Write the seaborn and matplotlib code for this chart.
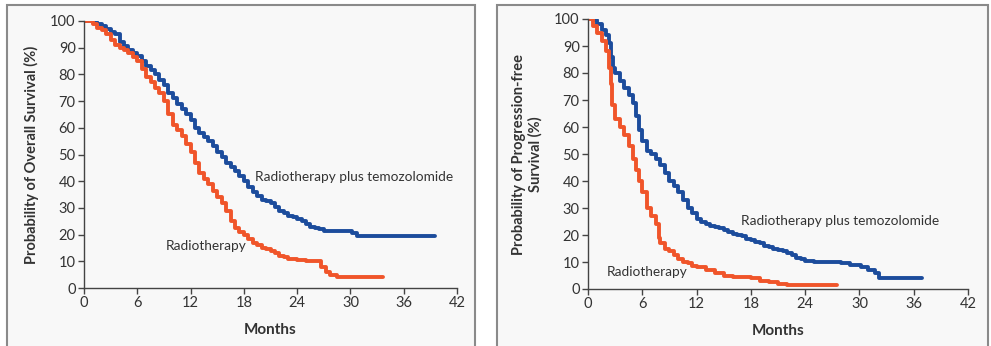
import numpy as np
import pandas as pd
import matplotlib
matplotlib.use("Agg")
import matplotlib.pyplot as plt
from matplotlib.patches import Rectangle
import seaborn as sns

# ── Data ──────────────────────────────────────────────────────────────────────
# overall survival, radiotherapy plus temozolomide
os_tmz_months = [0, 0.5, 1, 1.5, 2, 2.5, 3, 3.5, 4, 4.5, 5, 5.5, 6, 6.5, 7, 7.5, 8, 8.5, 9,
                 9.5, 10, 10.5, 11, 11.5, 12, 12.5, 13, 13.5, 14, 14.5, 15, 15.5, 16, 16.5,
                 17, 17.5, 18, 18.5, 19, 19.5, 20, 20.5, 21, 21.5, 22, 22.5, 23, 23.5, 24,
                 24.5, 25, 25.5, 26, 26.5, 27, 30.2, 30.7, 39.5]
os_tmz_surv = [100, 100, 99.5, 99, 98, 97, 96, 95, 92, 90.5, 89, 88, 87, 85, 83, 81.5, 80, 78,
               76, 73, 71, 69, 67, 65, 63, 60, 58, 56.5, 55, 53, 51, 49, 47, 45.5, 44, 42, 40,
               38, 36, 34.5, 33, 32.5, 32, 30.5, 29, 28, 27, 26.5, 26, 25, 24, 23, 22.5, 22,
               21.5, 20.5, 19.5, 19.5]

# overall survival, radiotherapy alone
os_rt_months = [0, 0.5, 1, 1.5, 2, 2.5, 3, 3.5, 4, 4.5, 5, 5.5, 6, 6.5, 7, 7.5, 8, 8.5, 9,
                9.5, 10, 10.5, 11, 11.5, 12, 12.5, 13, 13.5, 14, 14.5, 15, 15.5, 16, 16.5,
                17, 17.5, 18, 18.5, 19, 19.5, 20, 20.5, 21, 21.5, 22, 22.5, 23, 24, 25, 26.7,
                27.2, 27.7, 28.5, 33.7]
os_rt_surv = [100, 100, 99, 97.5, 96.5, 95, 93, 91, 90, 89, 88, 86.5, 85, 82, 79, 77, 75, 73,
              70, 65, 61, 59, 57, 54, 51, 47, 43, 41, 39, 36.5, 34, 32, 29, 25, 22.5, 21, 20,
              18.5, 17, 16, 15, 14.5, 14, 13, 12, 11.5, 11, 10.5, 10, 8, 6, 5, 4, 4]

# progression-free survival, radiotherapy plus temozolomide
pfs_tmz_months = [0, 0.5, 1, 1.5, 2, 2.3, 2.5, 2.8, 3, 3.5, 4, 4.5, 5, 5.3, 5.6, 6, 6.5, 7,
                  7.5, 8, 8.5, 9, 9.5, 10, 10.5, 11, 11.5, 12, 12.5, 13, 13.5, 14, 14.5, 15,
                  15.5, 16, 16.5, 17, 17.5, 18, 18.5, 19, 19.5, 20, 20.5, 21, 21.5, 22, 22.5,
                  23, 23.5, 24, 25, 28, 29, 30.2, 31, 31.7, 32.2, 36.9]
pfs_tmz_surv = [100, 99.5, 98, 96, 94, 91, 86, 82, 80, 77, 74.5, 72, 69, 64, 59, 55, 51, 50,
                48, 46, 43, 40, 38, 36, 33, 30, 28, 26, 25, 24, 23.5, 23, 22.5, 22, 21, 20.5,
                20, 19.5, 18.5, 18, 17.5, 17, 16, 15.5, 15, 14.5, 14, 13.5, 12.5, 11.5, 11,
                10.5, 10, 9.5, 9, 8, 7, 6, 4, 4]

# progression-free survival, radiotherapy alone
pfs_rt_months = [0, 0.5, 1, 1.5, 2, 2.3, 2.5, 2.7, 3, 3.5, 4, 4.5, 5, 5.3, 5.6, 6, 6.5, 7,
                 7.5, 7.8, 8, 8.5, 9, 9.5, 10, 10.5, 11, 11.5, 12, 13, 14, 15, 16, 18, 19,
                 20, 21, 22, 27.5]
pfs_rt_surv = [100, 97.5, 95, 92, 88, 82, 76, 68, 63, 60, 57, 53, 48, 44, 40, 36, 30, 27, 24,
               19, 17, 15, 14, 12.5, 11, 10, 9.5, 8.5, 8, 7, 6, 5, 4.5, 4, 3, 2.5, 2, 1.5, 1.5]

arm_names = ["Radiotherapy plus temozolomide", "Radiotherapy"]
x_ticks = [0, 6, 12, 18, 24, 30, 36, 42]
y_ticks = list(range(0, 101, 10))

BLUE = "#1c4c9c"
RED = "#f0552a"


def km_frame(tmz_m, tmz_s, rt_m, rt_s):
    return pd.concat([
        pd.DataFrame({"month": tmz_m, "surv": tmz_s, "arm": arm_names[0]}),
        pd.DataFrame({"month": rt_m, "surv": rt_s, "arm": arm_names[1]}),
    ], ignore_index=True)


os_df = km_frame(os_tmz_months, os_tmz_surv, os_rt_months, os_rt_surv)
pfs_df = km_frame(pfs_tmz_months, pfs_tmz_surv, pfs_rt_months, pfs_rt_surv)

sns.set_style("white")
plt.rcParams["font.family"] = ["Lato", "DejaVu Sans"]

W, H = 991, 346
fig = plt.figure(figsize=(W / 100, H / 100), dpi=100)

# ── Panel frames (gray boxes) ─────────────────────────────────────────────────
for x0, x1 in [(7, 475), (497, 988)]:
    fig.patches.append(Rectangle((x0 / W, -0.02), (x1 - x0) / W, (H - 5) / H + 0.02,
                                 transform=fig.transFigure, facecolor="#f8f8f8",
                                 edgecolor="#8a8a8a", linewidth=1.5, zorder=-1))


def panel(rect, df, ylabel, tmz_pos, rt_pos, ypad):
    l, t, r, b = rect
    ax = fig.add_axes([l / W, 1 - b / H, (r - l) / W, (b - t) / H])
    ax.set_facecolor("none")
    sns.lineplot(data=df, x="month", y="surv", hue="arm", palette=[BLUE, RED],
                 hue_order=arm_names, drawstyle="steps-post", linewidth=2.8,
                 legend=False, ax=ax, estimator=None, sort=False)
    ax.set_xlim(0, 42)
    ax.set_ylim(0, 100)
    ax.set_xticks(x_ticks)
    ax.set_yticks(y_ticks)
    for s in ["top", "right"]:
        ax.spines[s].set_visible(False)
    for s in ["left", "bottom"]:
        ax.spines[s].set_color("#444444")
        ax.spines[s].set_linewidth(1.0)
    ax.tick_params(axis="both", direction="out", length=4, width=1, color="#444444",
                   labelsize=10.5, labelcolor="#333333", pad=2,
                   bottom=True, left=True)
    ax.set_xlabel("Months", fontsize=11, fontweight="bold", color="#333333", labelpad=9)
    ax.set_ylabel(ylabel, fontsize=10.5, fontweight="bold", color="#333333",
                  labelpad=ypad, linespacing=1.25)
    ax.text(tmz_pos[0], tmz_pos[1], arm_names[0], fontsize=9.8, color="#333333", va="center")
    ax.text(rt_pos[0], rt_pos[1], arm_names[1], fontsize=9.8, color="#333333", va="center")
    return ax


panel((84, 21, 457, 288), os_df, "Probability of Overall Survival (%)",
      (19.3, 41.6), (9.2, 15.7), 8)
panel((588, 19, 968, 289), pfs_df, "Probability of Progression-free\nSurvival (%)",
      (16.9, 25.2), (2.1, 6.3), 8)

fig.savefig("out.png", dpi=100, facecolor="white")
